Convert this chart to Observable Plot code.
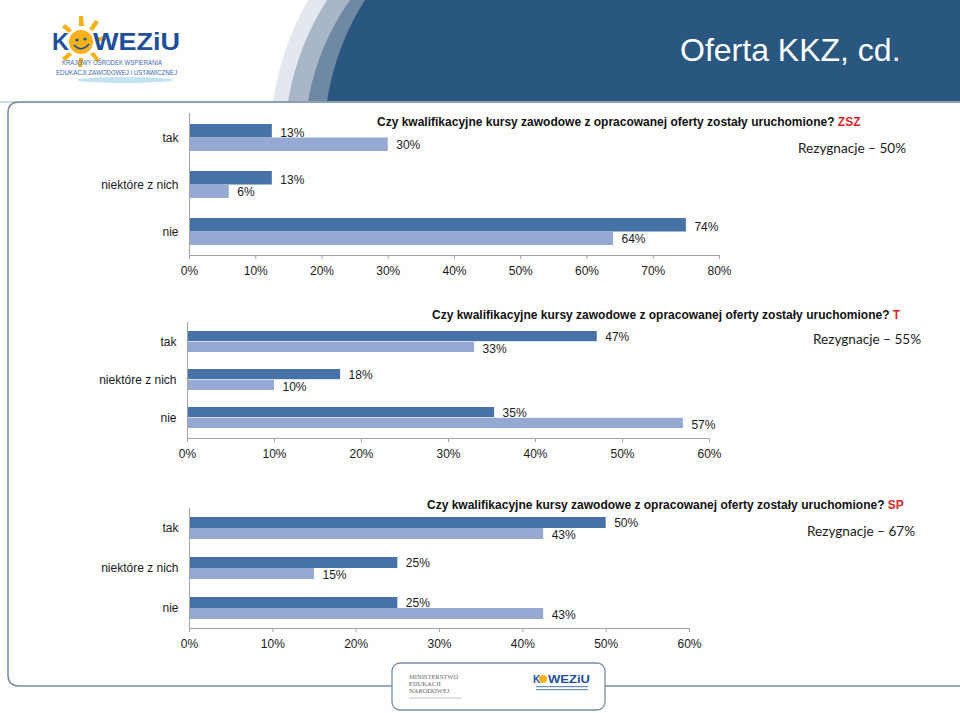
<!DOCTYPE html>
<html><head><meta charset="utf-8">
<script src="https://cdn.jsdelivr.net/npm/d3@7"></script>
<script src="https://cdn.jsdelivr.net/npm/@observablehq/plot@0.6"></script>
<style>
body{margin:0;background:#fff;}
#page{position:relative;width:960px;height:713px;overflow:hidden;font-family:"Liberation Sans",Arial,sans-serif;}
.abs{position:absolute;}
.q{font-weight:bold;font-size:12px;line-height:14px;white-space:nowrap;color:#111;}
.q span{color:#d7262d;}
.rez{font-family:Lato,"Open Sans",sans-serif;font-size:13.6px;line-height:18px;white-space:nowrap;color:#1a1a1a;}
.ttl{font-family:"Liberation Sans",Arial,sans-serif;font-size:32px;line-height:36px;color:#fff;white-space:nowrap;}
#charts svg{position:absolute;left:0;}
</style></head>
<body><div id="page">
<svg class="abs" style="left:0;top:0" width="960" height="713">
  <!-- header banner -->
  <path d="M308,0 Q282,45 273,101 L960,101 L960,0 Z" fill="#e3e8ef"/>
  <path d="M327,0 Q298,45 288,101 L960,101 L960,0 Z" fill="#a8b6c7"/>
  <path d="M350,0 Q318,45 308,101 L960,101 L960,0 Z" fill="#6f88a4"/>
  <path d="M365,0 Q336,45 327,101 L960,101 L960,0 Z" fill="#2a5780"/>
  <rect x="0" y="101" width="960" height="2" fill="#cfdbe6"/>
  <!-- logo -->
  <ellipse cx="125" cy="80" rx="48" ry="3" fill="#c3e3f2"/>
  <g fill="#f6b21a">
    <circle cx="81" cy="42" r="12"/>
    <path d="M79,26 L84,26 L83,16 L79,16 Z"/>
    <path d="M89,29 L93,31 L99,22 L95,20 Z"/>
    <path d="M95,38 L96,42 L106,40 L105,36 Z"/>
    <path d="M69,33 L72,30 L65,24 L62,27 Z"/>
    <path d="M69,52 L72,55 L65,61 L62,58 Z"/>
    <path d="M90,54 L94,52 L100,60 L97,62 Z"/>
    <path d="M79,58 L83,58 L82,67 L78,67 Z"/>
  </g>
  <circle cx="77" cy="40" r="1.6" fill="#1f4f9b"/>
  <circle cx="85" cy="39" r="1.6" fill="#1f4f9b"/>
  <path d="M74,45 Q81,53 89,44" stroke="#1f4f9b" stroke-width="1.7" fill="none"/>
  <text x="52" y="50" font-family="Liberation Sans, Arial" font-weight="bold" font-size="24" fill="#1f4f9b" textLength="17" lengthAdjust="spacingAndGlyphs">K</text>
  <text x="93" y="50" font-family="Liberation Sans, Arial" font-weight="bold" font-size="24" fill="#1f4f9b" textLength="87" lengthAdjust="spacingAndGlyphs">WEZiU</text>
  <text x="62" y="65" font-family="Liberation Sans, Arial" font-size="7.5" fill="#3d68ad" textLength="100" lengthAdjust="spacingAndGlyphs">KRAJOWY OŚRODEK WSPIERANIA</text>
  <text x="56" y="75" font-family="Liberation Sans, Arial" font-size="7.5" fill="#3d68ad" textLength="121" lengthAdjust="spacingAndGlyphs">EDUKACJI ZAWODOWEJ i USTAWICZNEJ</text>
  <!-- panel -->
  <path d="M975,102 L19,102 Q8,102 8,113 L8,675 Q8,686 19,686 L975,686" fill="none" stroke="#778ca3" stroke-width="1.5"/>
  <!-- footer box -->
  <rect x="392" y="663" width="213" height="47" rx="8" ry="8" fill="#fff" stroke="#778ca3" stroke-width="1.3"/>
  <g font-family="Liberation Serif, serif" font-size="6.5" fill="#666">
    <text x="409" y="679">MINISTERSTWO</text>
    <text x="409" y="686">EDUKACJI</text>
    <text x="409" y="693">NARODOWEJ</text>
  </g>
  <line x1="409" y1="698" x2="462" y2="698" stroke="#999" stroke-width="0.6"/>
  <circle cx="543" cy="679" r="4" fill="#f6b21a"/>
  <text x="533" y="683" font-family="Liberation Sans, Arial" font-weight="bold" font-size="10" fill="#1f4f9b">K</text>
  <text x="548" y="683" font-family="Liberation Sans, Arial" font-weight="bold" font-size="10" fill="#1f4f9b" textLength="42" lengthAdjust="spacingAndGlyphs">WEZiU</text>
  <rect x="536" y="686" width="52" height="1.2" fill="#6c8cc4"/>
  <rect x="536" y="689" width="52" height="1.2" fill="#6c8cc4"/>
</svg>
<div class="abs ttl" style="left:680px;top:32px">Oferta KKZ, cd.</div>
<div id="charts"></div>
<div class="abs q" style="left:377px;top:115px">Czy kwalifikacyjne kursy zawodowe z opracowanej oferty zostały uruchomione? <span>ZSZ</span></div>
<div class="abs rez" style="left:798px;top:139px">Rezygnacje – 50%</div>
<div class="abs q" style="left:432px;top:308px">Czy kwalifikacyjne kursy zawodowe z opracowanej oferty zostały uruchomione? <span>T</span></div>
<div class="abs rez" style="left:813px;top:330px">Rezygnacje – 55%</div>
<div class="abs q" style="left:427px;top:498px">Czy kwalifikacyjne kursy zawodowe z opracowanej oferty zostały uruchomione? <span>SP</span></div>
<div class="abs rez" style="left:807px;top:522px">Rezygnacje – 67%</div>
</div>
<script>
// ---- data ----
const categories = ["tak", "niektóre z nich", "nie"];

// ZSZ
const zszSeries1 = [12.5, 12.5, 75];
const zszLabels1 = ["13%", "13%", "74%"];
const zszSeries2 = [30, 6, 64];
const zszLabels2 = ["30%", "6%", "64%"];
const zszTicks = [0, 10, 20, 30, 40, 50, 60, 70, 80];

// T
const tSeries1 = [47.1, 17.6, 35.3];
const tLabels1 = ["47%", "18%", "35%"];
const tSeries2 = [33, 10, 57];
const tLabels2 = ["33%", "10%", "57%"];
const tTicks = [0, 10, 20, 30, 40, 50, 60];

// SP
const spSeries1 = [50, 25, 25];
const spLabels1 = ["50%", "25%", "25%"];
const spSeries2 = [42.5, 15, 42.5];
const spLabels2 = ["43%", "15%", "43%"];
const spTicks = [0, 10, 20, 30, 40, 50, 60];

const DARK = "#4672a8", LIGHT = "#95a9d3", GRAY = "#a3a3a3", INK = "#1a1a1a";

function chart({s1, l1, s2, l2, ticks, top, marginTop, innerH, marginLeft, marginRight, pad}) {
  const d1 = categories.map((c, i) => ({cat: c, v: s1[i], label: l1[i]}));
  const d2 = categories.map((c, i) => ({cat: c, v: s2[i], label: l2[i]}));
  const step = innerH / categories.length;
  const half = step * (1 - pad) / 2;
  const svg = Plot.plot({
    width: 960,
    height: marginTop + innerH + 30,
    marginTop, marginBottom: 30, marginLeft, marginRight,
    style: {fontFamily: "Liberation Sans, Arial, sans-serif", fontSize: "12px", background: "transparent", color: INK},
    x: {domain: [ticks[0], ticks[ticks.length - 1]]},
    y: {domain: categories, paddingInner: pad, paddingOuter: pad / 2},
    marks: [
      Plot.barX(d1, {x: "v", y: "cat", fill: DARK, insetBottom: half}),
      Plot.barX(d2, {x: "v", y: "cat", fill: LIGHT, insetTop: half}),
      Plot.ruleX([0], {stroke: GRAY}),
      Plot.frame({anchor: "bottom", stroke: GRAY}),
      Plot.axisX({ticks, tickFormat: d => d + "%", tickSize: 4, tickPadding: 7, stroke: GRAY, fill: INK, label: null}),
      Plot.axisY({tickSize: 0, tickPadding: 11, fill: INK, label: null}),
      Plot.text(d1, {x: "v", y: "cat", text: "label", dx: 8, dy: -5, textAnchor: "start", fill: INK}),
      Plot.text(d2, {x: "v", y: "cat", text: "label", dx: 8, dy: 7, textAnchor: "start", fill: INK})
    ]
  });
  svg.style.top = top + "px";
  document.getElementById("charts").appendChild(svg);
}

chart({s1: zszSeries1, l1: zszLabels1, s2: zszSeries2, l2: zszLabels2, ticks: zszTicks,
  top: 100, marginTop: 13, innerH: 142, marginLeft: 189, marginRight: 241, pad: 0.43});
chart({s1: tSeries1, l1: tLabels1, s2: tSeries2, l2: tLabels2, ticks: tTicks,
  top: 300, marginTop: 22, innerH: 116, marginLeft: 187, marginRight: 251, pad: 0.44});
chart({s1: spSeries1, l1: spLabels1, s2: spSeries2, l2: spLabels2, ticks: spTicks,
  top: 490, marginTop: 18, innerH: 120, marginLeft: 189, marginRight: 271, pad: 0.45});
</script>
</body></html>
